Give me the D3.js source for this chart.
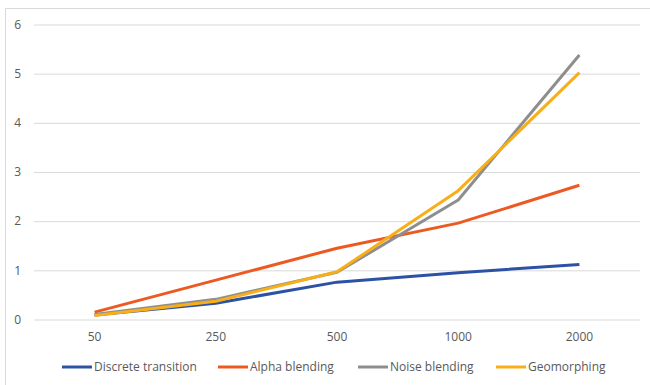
<!DOCTYPE html>
<html>
<head>
<meta charset="utf-8">
<script src="https://cdn.jsdelivr.net/npm/d3@7"></script>
<style>
  body { margin: 0; background: #fff; }
  text { font-family: "Open Sans", "Noto Sans", sans-serif; fill: #595959; }
</style>
</head>
<body>
<svg id="chart" width="650" height="385"></svg>
<script>
// chart data
var categories = ["50", "250", "500", "1000", "2000"];
var yTicks = [0, 1, 2, 3, 4, 5, 6];
var seriesNames = ["Discrete transition", "Alpha blending", "Noise blending", "Geomorphing"];
var discrete = [0.09, 0.33, 0.76, 0.95, 1.12];
var alpha = [0.15, 0.80, 1.45, 1.96, 2.73];
var noise = [0.10, 0.41, 0.96, 2.43, 5.38];
var geomorph = [0.08, 0.37, 0.97, 2.62, 5.02];
var colors = ["#2C52A5", "#EC5A22", "#8E8E8E", "#F9AE17"];

function build_chart() {
    var svg = d3.select('#chart');

    // outer border (only top and left show in the picture)
    svg.append('line').attr('x1', 5.5).attr('x2', 650).attr('y1', 8.5).attr('y2', 8.5)
        .style('stroke', '#D9D9D9');
    svg.append('line').attr('x1', 5.5).attr('x2', 5.5).attr('y1', 8.5).attr('y2', 385)
        .style('stroke', '#D9D9D9');

    var plot = {left: 34, right: 640, top: 24.5, bottom: 319.5};

    var x = d3.scalePoint().domain(categories).range([plot.left, plot.right]).padding(0.5);
    var y = d3.scaleLinear().domain([0, 6]).range([plot.bottom, plot.top]);

    // y gridlines
    var grid = svg.append('g')
        .attr('transform', 'translate(' + plot.left + ',0)')
        .call(d3.axisLeft(y).tickValues(yTicks).tickSize(-(plot.right - plot.left)).tickFormat(''));
    grid.select('.domain').remove();
    grid.selectAll('line').style('stroke', '#D9D9D9').style('stroke-width', 1);

    // y labels
    svg.append('g').selectAll('text')
        .data(yTicks)
        .enter().append('text')
        .attr('x', 21)
        .attr('y', function(d) { return y(d); })
        .attr('dy', '0.35em')
        .attr('text-anchor', 'end')
        .style('font-size', '12px')
        .text(function(d) { return d; });

    // x labels
    svg.append('g').selectAll('text')
        .data(categories)
        .enter().append('text')
        .attr('x', function(d) { return x(d); })
        .attr('y', 341)
        .attr('text-anchor', 'middle')
        .style('font-size', '12px')
        .text(function(d) { return d; });

    // lines
    var allSeries = [discrete, alpha, noise, geomorph];
    var valueline = d3.line()
        .x(function(d, i) { return x(categories[i]); })
        .y(function(d) { return y(d); });

    allSeries.forEach(function(s, i) {
        svg.append('path')
            .datum(s)
            .style('fill', 'none')
            .style('stroke', colors[i])
            .style('stroke-width', 3)
            .style('stroke-linejoin', 'round')
            .attr('d', valueline);
    });

    // legend
    var legendX = [62, 218, 358, 496];
    var legend = svg.append('g');
    seriesNames.forEach(function(name, i) {
        legend.append('line')
            .attr('x1', legendX[i]).attr('x2', legendX[i] + 30)
            .attr('y1', 367).attr('y2', 367)
            .style('stroke', colors[i])
            .style('stroke-width', 3);
        legend.append('text')
            .attr('x', legendX[i] + 32)
            .attr('y', 367)
            .attr('dy', '0.35em')
            .style('font-size', '12px')
            .text(name);
    });
}

build_chart();
</script>
</body>
</html>
